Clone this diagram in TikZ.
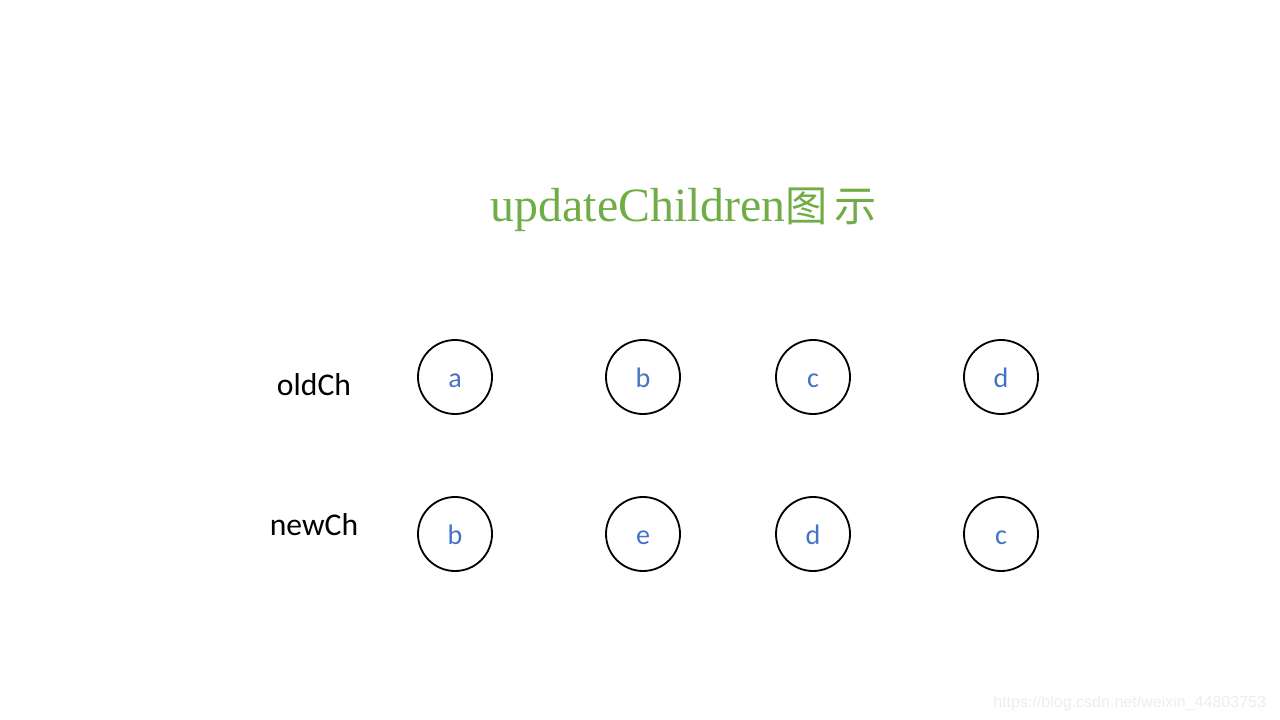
\documentclass[tikz,border=0pt]{standalone}
\usepackage{fontspec}
\setmainfont{Carlito}
\newfontfamily\titlefont{Liberation Serif}
\newfontfamily\cjkfont{Noto Sans CJK SC}
\newfontfamily\markfont{Liberation Sans}
\usepackage{xcolor}
\definecolor{titlegreen}{HTML}{70AD47}
\definecolor{letterblue}{HTML}{4472C4}

\begin{document}
\begin{tikzpicture}[
    x=0.025cm, y=-0.025cm,
    vnode/.style={circle, draw, line width=1.3pt, minimum size=1.85cm, inner sep=0pt, text height=0.5cm, text depth=0pt, text=letterblue, font=\fontsize{20}{24}\selectfont},
    rowlabel/.style={font=\fontsize{22.5}{26}\selectfont}
]
    \useasboundingbox (0,0) rectangle (1280,720);

    % Title
    \node[text=titlegreen, anchor=base] (title) at (684,222)
        {\titlefont\fontsize{34}{40}\selectfont updateChildren\cjkfont\fontsize{30}{36}\selectfont 图\,示};

    % Row labels
    \node[rowlabel, anchor=base] (old) at (314,396) {oldCh};
    \node[rowlabel, anchor=base] (new) at (314,535) {newCh};

    % oldCh vnodes
    \node[vnode] (o1) at (455,377) {a};
    \node[vnode] (o2) at (643,377) {b};
    \node[vnode] (o3) at (813,377) {c};
    \node[vnode] (o4) at (1001,377) {d};

    % newCh vnodes
    \node[vnode] (n1) at (455,534) {b};
    \node[vnode] (n2) at (643,534) {e};
    \node[vnode] (n3) at (813,534) {d};
    \node[vnode] (n4) at (1001,534) {c};

    % Watermark
    \node[anchor=base east, text=black!7, font=\markfont\fontsize{11.4}{14}\selectfont] (mark) at (1271,707) {https://blog.csdn.net/weixin\_44803753};
\end{tikzpicture}
\end{document}
